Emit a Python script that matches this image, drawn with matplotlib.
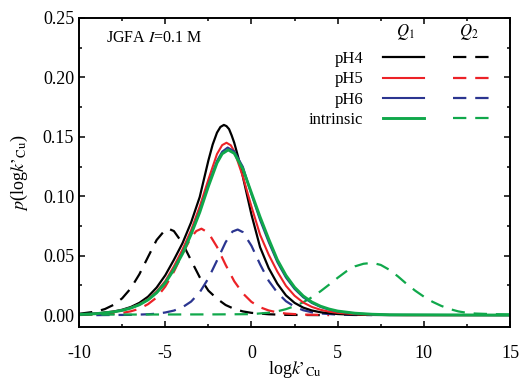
import matplotlib
matplotlib.use('Agg')
import matplotlib.pyplot as plt
from matplotlib.ticker import MultipleLocator, FormatStrFormatter


# ----------------- Data -----------------
# Q1 (solid) curves
ph4_q1_x = [-10, -9, -8, -7.5, -7, -6.5, -6, -5.5, -5, -4.5, -4, -3.5, -3, -2.5, -2.25, -2, -1.8,
            -1.6, -1.45, -1.3, -1.15, -1, -0.75, -0.5, 0, 0.5, 1, 1.5, 2, 2.5, 3, 3.5, 4, 5, 6, 8, 15]
ph4_q1_y = [0.0006, 0.0013, 0.003, 0.0045, 0.0068, 0.0103, 0.0155, 0.0232, 0.0335, 0.0465, 0.0605,
            0.078, 0.0994, 0.130, 0.1435, 0.1535, 0.1583, 0.160, 0.159, 0.1565, 0.1512, 0.145,
            0.1318, 0.1165, 0.0845, 0.0571, 0.0395, 0.0264, 0.0166, 0.0103, 0.0063, 0.0039, 0.0024,
            0.0009, 0.0003, 0.0, 0.0]

ph5_q1_x = [-10, -9, -8, -7.5, -7, -6.5, -6, -5.5, -5, -4.5, -4, -3.5, -3, -2.5, -2, -1.7, -1.45,
            -1.2, -1, -0.5, 0, 0.5, 1, 1.5, 2, 2.5, 3, 3.5, 4, 4.5, 5, 6, 7, 9, 15]
ph5_q1_y = [0.0005, 0.0012, 0.0028, 0.0041, 0.0062, 0.0091, 0.0135, 0.0199, 0.0286, 0.041, 0.0552,
            0.0714, 0.0914, 0.114, 0.1355, 0.143, 0.145, 0.1429, 0.1379, 0.1166, 0.0913, 0.0676,
            0.0508, 0.0366, 0.0246, 0.0163, 0.0106, 0.0069, 0.0045, 0.0029, 0.0019, 0.0008, 0.0003,
            0.0, 0.0]

ph6_q1_x = [-10, -9, -8, -7.5, -7, -6.5, -6, -5.5, -5, -4.5, -4, -3.5, -3, -2.5, -2, -1.7, -1.38,
            -1, -0.5, 0, 0.5, 1, 1.5, 2, 2.5, 3, 3.5, 4, 4.5, 5, 6, 7, 8, 15]
ph6_q1_y = [0.0005, 0.0012, 0.0027, 0.004, 0.006, 0.0088, 0.013, 0.019, 0.0274, 0.0388, 0.0522,
            0.0688, 0.0876, 0.1097, 0.1297, 0.1375, 0.141, 0.1378, 0.1248, 0.1015, 0.080, 0.0614,
            0.0446, 0.0316, 0.0220, 0.0150, 0.0102, 0.0069, 0.0047, 0.0031, 0.0014, 0.0006, 0.0002, 0.0]

intr_q1_x = [-10, -9, -8, -7.5, -7, -6.5, -6, -5.5, -5, -4.5, -4, -3.5, -3, -2.5, -2, -1.7, -1.35,
             -1, -0.5, 0, 0.5, 1, 1.5, 2, 2.5, 3, 3.5, 4, 4.5, 5, 6, 7, 8, 15]
intr_q1_y = [0.0005, 0.0012, 0.0027, 0.004, 0.0059, 0.0087, 0.0128, 0.0188, 0.027, 0.0383, 0.0516,
             0.068, 0.0865, 0.1083, 0.128, 0.1357, 0.139, 0.1361, 0.123, 0.1027, 0.0825, 0.0639,
             0.0465, 0.0334, 0.0234, 0.0161, 0.011, 0.0075, 0.0051, 0.0034, 0.0016, 0.0007, 0.0003, 0.0]

# Q2 (dashed) curves
ph4_q2_x = [-10, -9, -8.5, -8, -7.5, -7, -6.5, -6, -5.5, -5, -4.8, -4.5, -4, -3.5, -3, -2.5, -2,
            -1.5, -1, -0.5, 0, 1, 2, 4]
ph4_q2_y = [0.0011, 0.003, 0.0051, 0.0086, 0.0141, 0.0225, 0.0344, 0.0489, 0.0632, 0.0718, 0.0726,
            0.0707, 0.0605, 0.046, 0.0318, 0.0206, 0.0138, 0.0085, 0.0052, 0.0031, 0.0019, 0.0007,
            0.0002, 0.0]

ph5_q2_x = [-10, -9, -8, -7.5, -7, -6.5, -6, -5.5, -5, -4.5, -4, -3.5, -3.2, -2.9, -2.5, -2, -1.5,
            -1, -0.5, 0, 0.5, 1, 1.5, 2, 3, 4.5]
ph5_q2_y = [0.0001, 0.0004, 0.0011, 0.0018, 0.0032, 0.0053, 0.0092, 0.0148, 0.024, 0.0365, 0.0515,
            0.0654, 0.0707, 0.0727, 0.0693, 0.0574, 0.0423, 0.0285, 0.0183, 0.0111, 0.0066, 0.0039,
            0.0023, 0.0013, 0.0004, 0.0]

ph6_q2_x = [-9, -8, -7, -6, -5.5, -5, -4.5, -4, -3.5, -3, -2.5, -2, -1.5, -1.1, -0.8, -0.5, 0,
            0.5, 1, 1.5, 2, 2.5, 3, 3.5, 4, 5, 6, 7]
ph6_q2_y = [0.0, 0.0001, 0.0002, 0.0007, 0.0012, 0.0022, 0.0038, 0.0066, 0.0114, 0.0192, 0.0309,
            0.0459, 0.0613, 0.0703, 0.072, 0.0698, 0.0583, 0.0427, 0.0288, 0.0189, 0.0117, 0.0071,
            0.0041, 0.0024, 0.0014, 0.0004, 0.0001, 0.0]

intr_q2_x = [-10, -6, -2, 0, 1, 1.5, 2, 2.5, 3, 3.5, 4, 4.5, 5, 5.5, 6, 6.5, 6.85, 7.2, 7.5, 8,
             8.5, 9, 9.5, 10, 10.5, 11, 11.5, 12, 12.5, 13, 14, 15]
intr_q2_y = [0.0004, 0.0005, 0.0006, 0.0008, 0.002, 0.0032, 0.005, 0.0075, 0.0108, 0.015, 0.020,
             0.0256, 0.0314, 0.0368, 0.041, 0.0432, 0.0437, 0.0433, 0.0422, 0.0381, 0.0325, 0.0262,
             0.0205, 0.0155, 0.0112, 0.0078, 0.0051, 0.0031, 0.0019, 0.0013, 0.0008, 0.0006]

labels = ['pH4', 'pH5', 'pH6', 'intrinsic']
colors = ['#000000', '#ec2227', '#2b3590', '#10a84b']
q1_widths = [1.6, 1.5, 1.5, 2.1]


# ----------------- Plot -----------------
def plot_affinity(ax):
    q1 = [(ph4_q1_x, ph4_q1_y), (ph5_q1_x, ph5_q1_y), (ph6_q1_x, ph6_q1_y), (intr_q1_x, intr_q1_y)]
    q2 = [(ph4_q2_x, ph4_q2_y), (ph5_q2_x, ph5_q2_y), (ph6_q2_x, ph6_q2_y), (intr_q2_x, intr_q2_y)]

    solid, dashed = [], []
    for (x2, y2), c in zip(q2, colors):
        l, = ax.plot(x2, y2, color=c, lw=1.6, ls=(0, (6, 4)))
        dashed.append(l)
    for (x1, y1), c, lw in zip(q1, colors, q1_widths):
        l, = ax.plot(x1, y1, color=c, lw=lw)
        solid.append(l)

    # legend: labels on the left, Q1 column then Q2 column
    ax.legend(solid + dashed, labels + [''] * 4, ncol=2, markerfirst=False,
              loc='upper right', bbox_to_anchor=(0.965, 0.892), frameon=False,
              fontsize=12, handlelength=2.5, handletextpad=1.15, columnspacing=0.6,
              labelspacing=0.25, borderpad=0, borderaxespad=0)
    ax.text(0.756, 0.956, r'$Q_1$', transform=ax.transAxes, ha='center', va='center', fontsize=12)
    ax.text(0.903, 0.956, r'$Q_2$', transform=ax.transAxes, ha='center', va='center', fontsize=12)
    ax.text(0.063, 0.935, r'JGFA $I$=0.1 M', transform=ax.transAxes, ha='left', va='center',
            fontsize=11.5)

    ax.set_xlim(-10, 15)
    ax.set_ylim(-0.01, 0.25)
    ax.xaxis.set_major_locator(MultipleLocator(5))
    ax.xaxis.set_minor_locator(MultipleLocator(2.5))
    ax.yaxis.set_major_locator(MultipleLocator(0.05))
    ax.yaxis.set_minor_locator(MultipleLocator(0.025))
    ax.yaxis.set_major_formatter(FormatStrFormatter('%.2f'))
    ax.tick_params(which='both', direction='in', top=True, right=True, width=1.1)
    ax.tick_params(which='major', length=4.5, labelsize=13)
    ax.tick_params(which='minor', length=2.5)
    ax.tick_params(axis='x', which='major', pad=13)
    for s in ax.spines.values():
        s.set_linewidth(1.4)

    ax.set_xlabel("log$k’_{\\mathrm{Cu}}$", fontsize=13, labelpad=-2)
    ax.set_ylabel("$p$(log$k’_{\\mathrm{Cu}}$)", fontsize=13, labelpad=9)


def main():
    plt.rcParams['font.family'] = 'serif'
    plt.rcParams['font.serif'] = ['Liberation Serif', 'DejaVu Serif']
    plt.rcParams['mathtext.fontset'] = 'stix'
    plt.rcParams['axes.unicode_minus'] = False

    fig = plt.figure(figsize=(5.2, 3.82), dpi=100)
    ax = fig.add_axes([0.152, 0.144, 0.829, 0.809])
    plot_affinity(ax)
    fig.savefig('out.png', dpi=100)
    plt.close(fig)


if __name__ == '__main__':
    main()
